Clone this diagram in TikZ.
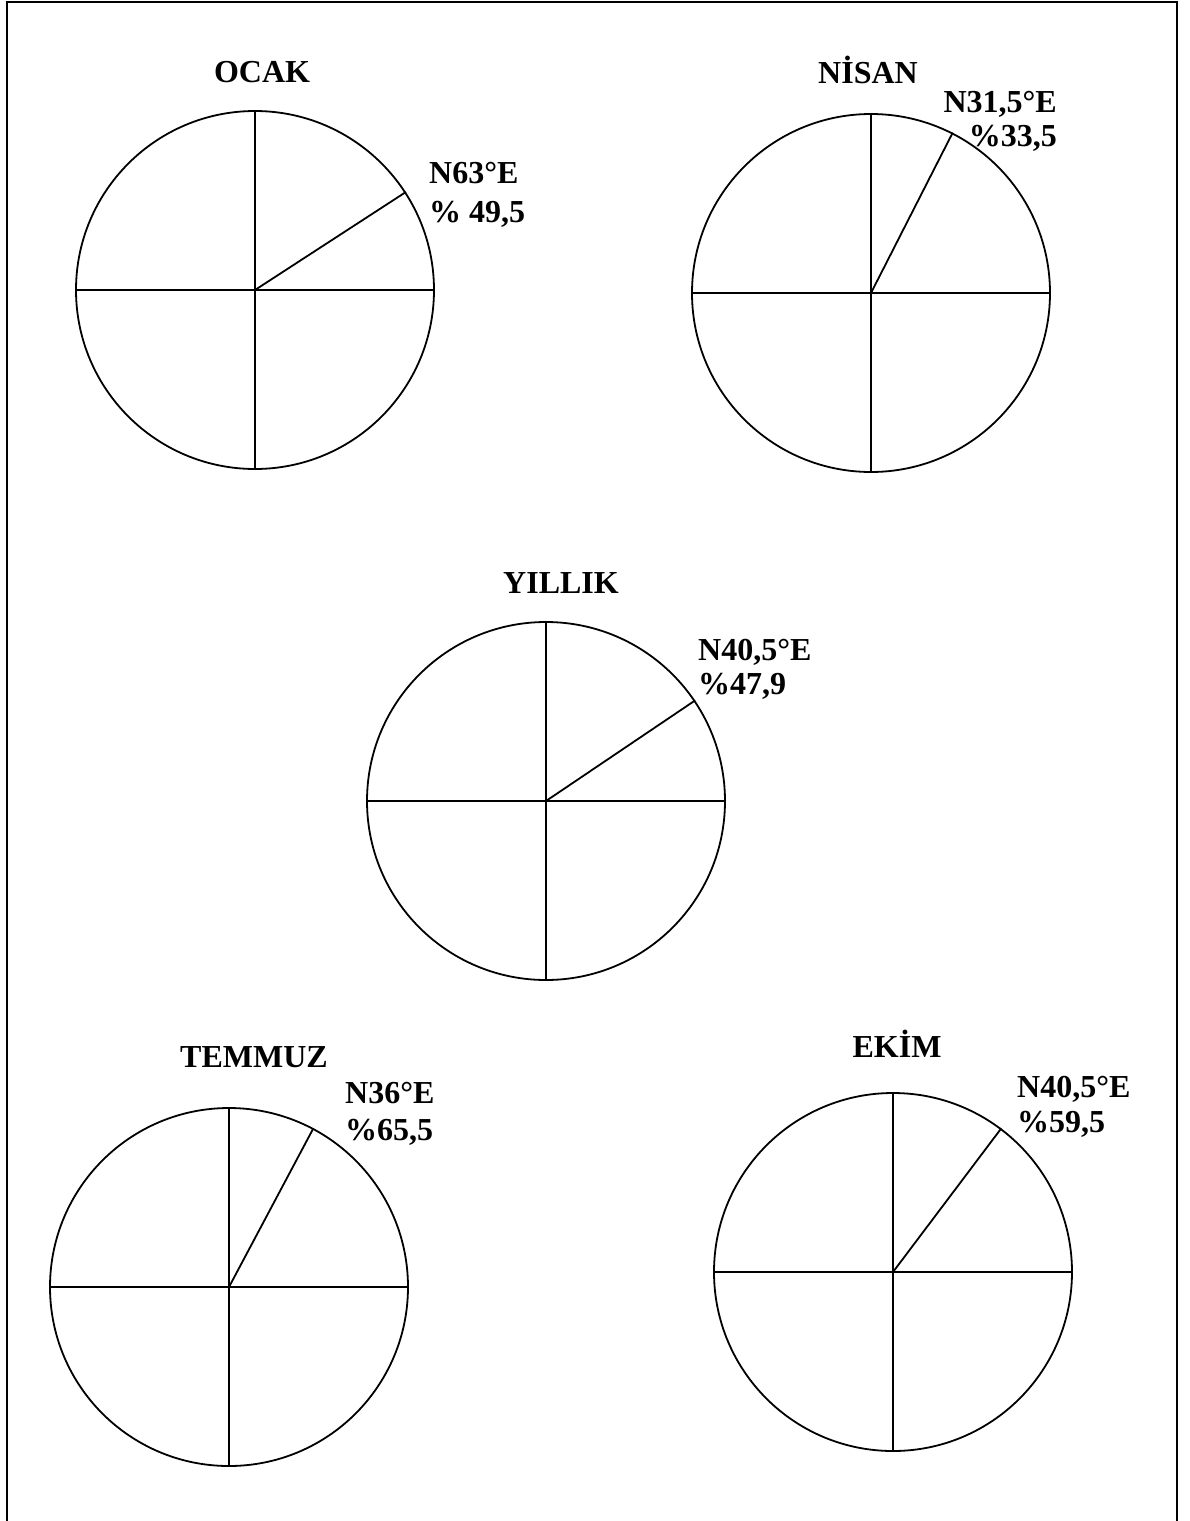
\documentclass[tikz,border=0pt]{standalone}
\usepackage{fontspec}
\setmainfont{Liberation Serif}
\begin{document}
\begin{tikzpicture}[x=1pt,y=-1pt,
  wheel/.style={circle,draw,line width=1.8pt,minimum size=358pt,inner sep=0pt},
  ray/.style={line width=1.8pt},
  lbl/.style={inner sep=0pt,font=\fontsize{32}{36}\selectfont\bfseries},
  title/.style={lbl,anchor=base},
  lw/.style={lbl,anchor=base west},
  le/.style={lbl,anchor=base east}]
\useasboundingbox (0,0) rectangle (1189,1521);
\clip (0,0) rectangle (1189,1521);
\fill[white] (0,0) rectangle (1189,1521);
\draw[line width=2.5pt] (7,1530) -- (7,2) -- (1177,2) -- (1177,1530);

% OCAK
\node[wheel] (c1) at (255,290) {};
\draw[ray] (c1.north) -- (c1.south);
\draw[ray] (c1.west) -- (c1.east);
\draw[ray] (c1.center) -- (c1.33);
\node[title] (t1) at (262,82) {OCAK};
\node[lw] (a1) at (429,183) {N63°E};
\node[lw] (p1) at (429,222) {\% 49,5};

% NISAN
\node[wheel] (c2) at (871,293) {};
\draw[ray] (c2.north) -- (c2.south);
\draw[ray] (c2.west) -- (c2.east);
\draw[ray] (c2.center) -- (c2.63);
\node[title] (t2) at (868,83) {NİSAN};
\node[le] (a2) at (1057,112) {N31,5°E};
\node[le] (p2) at (1057,146) {\%33,5};

% YILLIK
\node[wheel] (c3) at (546,801) {};
\draw[ray] (c3.north) -- (c3.south);
\draw[ray] (c3.west) -- (c3.east);
\draw[ray] (c3.center) -- (c3.34);
\node[title] (t3) at (561,593) {YILLIK};
\node[lw] (a3) at (698,660) {N40,5°E};
\node[lw] (p3) at (698,694) {\%47,9};

% TEMMUZ
\node[wheel] (c4) at (229,1287) {};
\draw[ray] (c4.north) -- (c4.south);
\draw[ray] (c4.west) -- (c4.east);
\draw[ray] (c4.center) -- (c4.62);
\node[title] (t4) at (254,1067) {TEMMUZ};
\node[lw] (a4) at (345,1103) {N36°E};
\node[lw] (p4) at (345,1140) {\%65,5};

% EKIM
\node[wheel] (c5) at (893,1272) {};
\draw[ray] (c5.north) -- (c5.south);
\draw[ray] (c5.west) -- (c5.east);
\draw[ray] (c5.center) -- (c5.53);
\node[title] (t5) at (897,1057) {EKİM};
\node[lw] (a5) at (1017,1097) {N40,5°E};
\node[lw] (p5) at (1017,1132) {\%59,5};
\end{tikzpicture}
\end{document}
